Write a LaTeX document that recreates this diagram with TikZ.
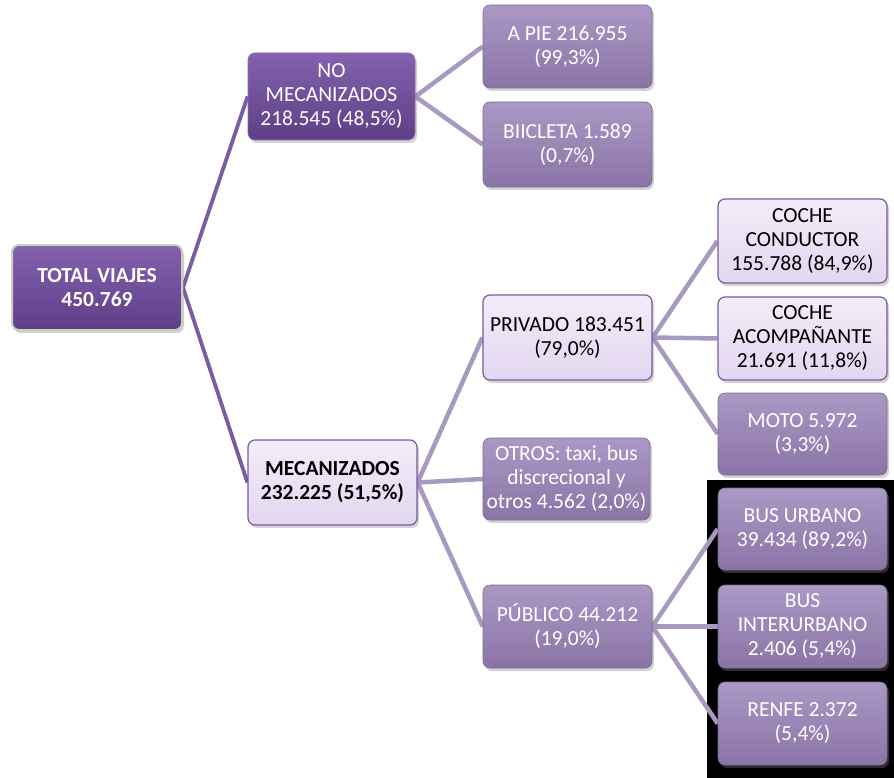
\documentclass[tikz,border=0pt]{standalone}
\usepackage{fontspec}
\setmainfont{Carlito}
\usetikzlibrary{backgrounds,shadows}
\definecolor{darkp}{HTML}{6C4B97}
\definecolor{darkpT}{HTML}{8462AE}
\definecolor{darkpB}{HTML}{5E3F87}
\definecolor{medpT}{HTML}{AB98C5}
\definecolor{medpB}{HTML}{8A74A6}
\definecolor{lightp}{HTML}{EDE4F6}
\definecolor{lightpT}{HTML}{F3EDF9}
\definecolor{lightpB}{HTML}{E3D6F0}
\definecolor{borderp}{HTML}{7A5A9E}
\definecolor{linkA}{HTML}{7B5CA0}
\definecolor{linkB}{HTML}{A899C0}
\definecolor{rootedge}{HTML}{C9CFBC}
\tikzset{
  box/.style={rectangle, rounded corners=7pt, align=center, inner sep=2pt,
    font=\fontsize{21.5}{24}\selectfont,
    drop shadow={shadow xshift=2pt, shadow yshift=-3pt, opacity=0.35}},
  darkbox/.style={box, top color=darkpT, bottom color=darkpB, draw=darkp!80!white, line width=0.8pt, text=white},
  medbox/.style={box, top color=medpT, bottom color=medpB, draw=medpB!90!black, line width=0.6pt, text=white},
  lightbox/.style={box, top color=lightpT, bottom color=lightpB, draw=borderp, line width=1.2pt, text=black},
  linkone/.style={draw=linkA, line width=3.8pt},
  linktwo/.style={draw=linkB, line width=4.5pt},
}
\begin{document}
\begin{tikzpicture}[x=1pt,y=-1pt]
\useasboundingbox (0,0) rectangle (894,778);
% nodes
\node[darkbox, minimum width=170pt, minimum height=85pt, draw=rootedge, line width=2pt] (total) at (97,287.5) {\textbf{TOTAL VIAJES}\\\textbf{450.769}};
\node[darkbox, minimum width=167pt, minimum height=87pt] (nomec) at (331.5,96.5) {NO\\MECANIZADOS\\218.545 (48,5\%)};
\node[lightbox, minimum width=169pt, minimum height=85pt] (mec) at (332.5,482.5) {\textbf{MECANIZADOS}\\\textbf{232.225 (51,5\%)}};
\node[medbox, minimum width=169pt, minimum height=83pt] (apie) at (567.5,46.5) {A PIE 216.955\\(99,3\%)};
\node[medbox, minimum width=169pt, minimum height=85pt] (bici) at (567.5,144.5) {BIICLETA 1.589\\(0,7\%)};
\node[lightbox, minimum width=169pt, minimum height=85pt] (priv) at (567.5,337.5) {PRIVADO 183.451\\(79,0\%)};
\node[medbox, minimum width=167pt, minimum height=82pt] (otros) at (566.5,479) {OTROS: taxi, bus\\discrecional y\\otros 4.562 (2,0\%)};
\node[medbox, minimum width=169pt, minimum height=83pt] (pub) at (567.5,626.5) {PÚBLICO 44.212\\(19,0\%)};
\node[lightbox, minimum width=169pt, minimum height=84pt] (cc) at (802.5,241) {COCHE\\CONDUCTOR\\155.788 (84,9\%)};
\node[lightbox, minimum width=169pt, minimum height=83pt] (ca) at (802.5,338.5) {COCHE\\ACOMPAÑANTE\\21.691 (11,8\%)};
\node[medbox, minimum width=169pt, minimum height=82pt] (moto) at (802.5,434) {MOTO 5.972\\(3,3\%)};
\node[medbox, minimum width=169pt, minimum height=82pt] (busu) at (802.5,529) {BUS URBANO\\39.434 (89,2\%)};
\node[medbox, minimum width=169pt, minimum height=83pt] (busi) at (802.5,626.5) {BUS\\INTERURBANO\\2.406 (5,4\%)};
\node[medbox, minimum width=169pt, minimum height=83pt] (renfe) at (802.5,723.5) {RENFE 2.372\\(5,4\%)};
\begin{scope}[on background layer]
\fill[black] (707,480) rectangle (894,778);
\draw[linkone] (total.east) -- (nomec.west);
\draw[linkone] (total.east) -- (mec.west);
\draw[linktwo] (nomec.east) -- (apie.west);
\draw[linktwo] (nomec.east) -- (bici.west);
\draw[linktwo] (mec.east) -- (priv.west);
\draw[linktwo] (mec.east) -- (otros.west);
\draw[linktwo] (mec.east) -- (pub.west);
\draw[linktwo] (priv.east) -- (cc.west);
\draw[linktwo] (priv.east) -- (ca.west);
\draw[linktwo] (priv.east) -- (moto.west);
\draw[linktwo] (pub.east) -- (busu.west);
\draw[linktwo] (pub.east) -- (busi.west);
\draw[linktwo] (pub.east) -- (renfe.west);
\end{scope}
\end{tikzpicture}
\end{document}
